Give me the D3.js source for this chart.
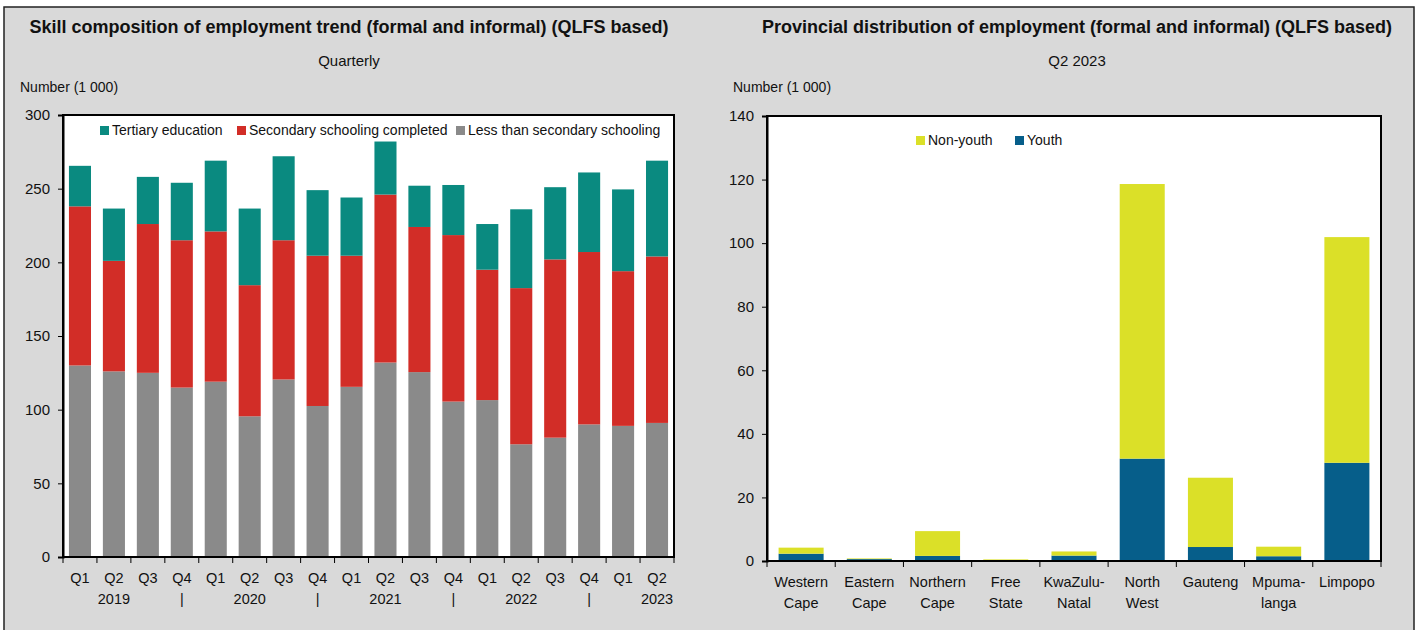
<!DOCTYPE html>
<html>
<head>
<meta charset="utf-8">
<script src="https://cdn.jsdelivr.net/npm/d3@7"></script>
<style>
  body{margin:0;background:#fff;}
  svg{display:block;}
  text{font-family:"Liberation Sans Narrow","Arial Narrow","Liberation Sans",sans-serif;fill:#111;}
  .title{font-weight:bold;font-size:18px;}
  .sub{font-size:15px;}
  .unit{font-size:14px;}
  .tick text{font-size:15px;}
  .leg{font-size:14px;}
</style>
</head>
<body>
<svg id="chart" width="1419" height="630"></svg>
<script>
'use strict';

// left panel: skill composition, quarterly (thousands)
var quarters=['Q1','Q2','Q3','Q4','Q1','Q2','Q3','Q4','Q1','Q2','Q3','Q4','Q1','Q2','Q3','Q4','Q1','Q2']
  , yearRow=['','2019','','|','','2020','','|','','2021','','|','','2022','','|','','2023']
  , lessSecondary=[130,126,125,115,119,95.5,120.5,102.5,115.5,132,125.5,105.5,106.5,76.5,81,90,89,91]
  , secondary=[108,75,101,100,102,89,94.5,102,89,114,98.5,113,88.5,106,121,117,105,113]
  , tertiary=[27.5,35.5,32,39,48,52,57,44.5,39.5,36,28,34,31,53.5,49,54,55.5,65]
  , skillKeys=['less','secondary','tertiary']
  , skillNames={tertiary:'Tertiary education',secondary:'Secondary schooling completed',less:'Less than secondary schooling'}
  , skillColors={tertiary:'#0a8a80',secondary:'#d22d27',less:'#8a8a8a'}
  , leftTicks=[0,50,100,150,200,250,300];

// right panel: provincial distribution, Q2 2023 (thousands)
var provinces=[['Western','Cape'],['Eastern','Cape'],['Northern','Cape'],['Free','State'],['KwaZulu-','Natal'],['North','West'],['Gauteng',''],['Mpuma-','langa'],['Limpopo','']]
  , youth=[2.3,0.6,1.6,0.1,1.7,32.2,4.4,1.5,30.9]
  , nonYouth=[1.9,0.2,7.8,0.4,1.3,86.4,21.8,3.0,71]
  , ageKeys=['youth','nonYouth']
  , ageNames={nonYouth:'Non-youth',youth:'Youth'}
  , ageColors={nonYouth:'#dbe028',youth:'#065e8a'}
  , rightTicks=[0,20,40,60,80,100,120,140];

var svg=d3.select('#chart');

// panel background
svg.append('rect')
    .attr('x',4).attr('y',7).attr('width',1410).attr('height',640)
    .attr('fill','#d9d9d9').attr('stroke','#222').attr('stroke-width',1.5);

function stackedPanel(o){
    var g=svg.append('g')
      , rows=o.cats.map(function(c,i){
            var r={i:i};
            o.keys.forEach(function(k){r[k]=o.values[k][i];});
            return r;
        })
      , series=d3.stack().keys(o.keys)(rows)
      , x=d3.scaleBand().domain(d3.range(o.cats.length))
            .range([o.left,o.right]).paddingInner(o.pad).paddingOuter(o.pad/2)
      , y=d3.scaleLinear().domain(o.domain).range([o.bottom,o.top])

    g.append('text').attr('class','title')
        .attr('x',o.cx).attr('y',33).attr('text-anchor','middle').text(o.title);
    g.append('text').attr('class','sub')
        .attr('x',o.cx).attr('y',66).attr('text-anchor','middle').text(o.sub);
    g.append('text').attr('class','unit')
        .attr('x',o.unitX).attr('y',92).text('Number (1 000)');

    g.append('rect')
        .attr('x',o.left).attr('y',o.top)
        .attr('width',o.right-o.left).attr('height',o.bottom-o.top)
        .attr('fill','#fff');

    g.append('g').selectAll('g').data(series).join('g')
        .attr('fill',function(s){return o.colors[s.key];})
        .selectAll('rect').data(function(s){return s;}).join('rect')
        .attr('x',function(d){return x(d.data.i);})
        .attr('width',x.bandwidth())
        .attr('y',function(d){return y(d[1]);})
        .attr('height',function(d){return Math.max(0,y(d[0])-y(d[1]));});

    g.append('rect')
        .attr('x',o.left).attr('y',o.top)
        .attr('width',o.right-o.left).attr('height',o.bottom-o.top)
        .attr('fill','none').attr('stroke','#000').attr('stroke-width',2);

    // y axis
    var ya=g.append('g').attr('transform','translate('+o.left+',0)')
        .call(d3.axisLeft(y).tickValues(o.ticks).tickSize(5).tickPadding(8));
    ya.select('.domain').attr('stroke','#000').attr('stroke-width',2);

    // x axis: ticks on category boundaries
    var xa=g.append('g').attr('transform','translate(0,'+o.bottom+')');
    xa.selectAll('line').data(d3.range(o.cats.length+1)).join('line')
        .attr('x1',function(i){return o.left+i*x.step();})
        .attr('x2',function(i){return o.left+i*x.step();})
        .attr('y1',0).attr('y2',6)
        .attr('stroke','#000').attr('stroke-width',1);
    var lab=xa.selectAll('text').data(o.cats).join('text')
        .attr('text-anchor','middle')
        .style('font-size','14.5px')
        .attr('transform',function(d,i){return 'translate('+(x(i)+x.bandwidth()/2)+',0)';});
    lab.append('tspan').attr('x',0).attr('y',26).text(function(d){return d[0];});
    lab.append('tspan').attr('x',0).attr('y',47).text(function(d){return d[1];});

    // legend
    var lg=g.append('g').selectAll('g').data(o.legend).join('g')
        .attr('transform',function(d,i){return 'translate('+o.legX[i]+','+o.legY+')';});
    lg.append('rect').attr('x',0).attr('y',-9).attr('width',9).attr('height',9)
        .attr('fill',function(k){return o.colors[k];});
    lg.append('text').attr('class','leg').attr('x',12).attr('y',0)
        .text(function(k){return o.names[k];});
}

stackedPanel({
    title:'Skill composition of employment trend (formal and informal) (QLFS based)'
  , sub:'Quarterly'
  , cx:349, unitX:20
  , cats:quarters.map(function(q,i){return [q,yearRow[i]];})
  , keys:skillKeys
  , values:{less:lessSecondary,secondary:secondary,tertiary:tertiary}
  , colors:skillColors, names:skillNames
  , legend:['tertiary','secondary','less'], legX:[100,237,456], legY:135
  , left:63, right:674, top:115, bottom:557, pad:0.35
  , domain:[0,300], ticks:leftTicks
});

stackedPanel({
    title:'Provincial distribution of employment (formal and informal) (QLFS based)'
  , sub:'Q2  2023'
  , cx:1077, unitX:733
  , cats:provinces
  , keys:ageKeys
  , values:{youth:youth,nonYouth:nonYouth}
  , colors:ageColors, names:ageNames
  , legend:['nonYouth','youth'], legX:[916,1015], legY:145
  , left:767, right:1381, top:116, bottom:561, pad:0.34
  , domain:[0,140], ticks:rightTicks
});
</script>
</body>
</html>
